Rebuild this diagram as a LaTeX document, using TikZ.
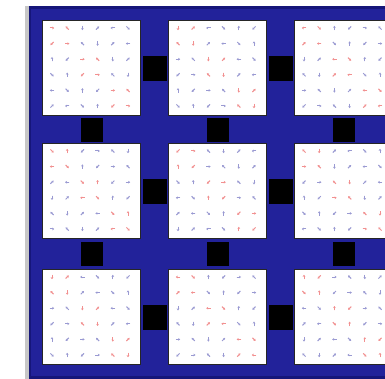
\documentclass[tikz,border=0pt]{standalone}
\usetikzlibrary{arrows.meta,calc}
\definecolor{bgblue}{HTML}{22229A}
\definecolor{bgdark}{HTML}{16167A}
\definecolor{markred}{HTML}{F29090}
\definecolor{markblue}{HTML}{9A9AD2}
\begin{document}
\begin{tikzpicture}[x=1pt,y=-1pt,
  tile/.style={draw=black!85,line width=1.4pt,fill=white,inner sep=0pt,
    minimum width=98pt,minimum height=95pt,anchor=north west},
  vlink/.style={fill=black,inner sep=0pt,minimum width=24pt,minimum height=25pt},
  hlink/.style={fill=black,inner sep=0pt,minimum width=22pt,minimum height=24pt},
  glyph/.style={line width=1pt,-{Stealth[length=2pt,width=2.6pt]}}]
\useasboundingbox (0,0) rectangle (385,379);
\clip (0,0) rectangle (385,379);
\fill[white] (0,0) rectangle (385,379);
\fill[black!22] (25,6) rectangle (29,379);
\fill[bgdark] (29,6) rectangle (385,379);
\fill[bgblue] (31,9) rectangle (385,376);
% tiles
\foreach \c in {0,1,2}{
  \foreach \r/\y in {0/20,1/143,2/269}{
    \node[tile] (t\r\c) at ({42+126*\c},\y) {};
    \foreach \i in {0,...,5}{
      \foreach \j in {0,...,5}{
        \pgfmathtruncatemacro{\bi}{int(\i/2)}
        \pgfmathtruncatemacro{\bj}{int(\j/2)}
        \pgfmathtruncatemacro{\ang}{45*mod(3*\i+5*\j+\r+2*\c,8)}
        \ifnum\bi=\bj \def\mc{markred}\else\def\mc{markblue}\fi
        \coordinate (m) at ($(t\r\c.north west)+({10+15.2*\j},{8+15.6*\i})$);
        \draw[glyph,draw=\mc,fill=\mc] ($(m)+(\ang+180:2.2)$) -- ($(m)+(\ang:2.2)$);
      }
    }
  }
}
% links between tiles in a row
\foreach \r in {0,1,2}{
  \foreach \c/\d in {0/1,1/2}{
    \node[vlink] (v\r\c) at ($(t\r\c.east)!0.5!(t\r\d.west)$) {};
  }
}
% links between tiles in a column
\foreach \r/\s in {0/1,1/2}{
  \foreach \c in {0,1,2}{
    \node[hlink] (h\r\c) at ($(t\r\c.south)!0.5!(t\s\c.north)$) {};
  }
}
\end{tikzpicture}
\end{document}
